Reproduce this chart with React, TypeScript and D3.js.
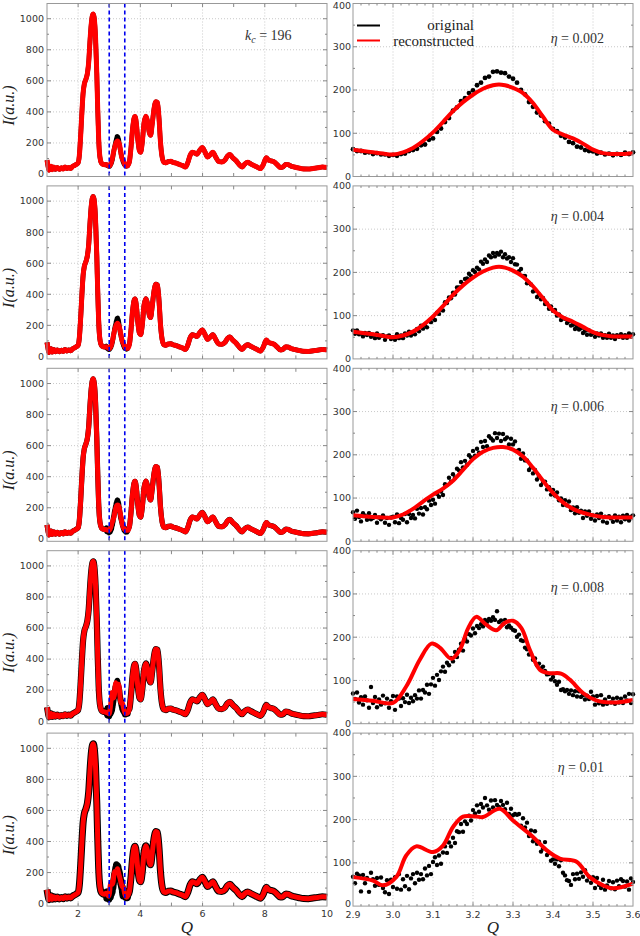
import * as d3 from "d3";

// ---- layout ----
const W = 640;
const H = 936;
const TOP0 = 3.5;
const PH = 173;
const STEP = 182.4;
const LX = [47, 327];
const RX = [353, 633];

// ---- labels / ticks ----
const etaLabels = ["0.002", "0.004", "0.006", "0.008", "0.01"];
const etaDy = [35, 31, 39, 37, 35];
const leftXTicks = [2, 4, 6, 8, 10];
const leftYTicks = [0, 200, 400, 600, 800, 1000];
const rightXTicks = [2.9, 3.0, 3.1, 3.2, 3.3, 3.4, 3.5, 3.6];
const rightYTicks = [0, 100, 200, 300, 400];
const windowLines = [3.0, 3.5];

// full spectrum outside the 2.9–3.6 window, [Q, I]
const specLow = [
  [1.0, 90], [1.03, 55], [1.06, 25], [1.1, 45], [1.13, 50], [1.17, 28], [1.22, 45], [1.27, 30],
  [1.33, 42], [1.4, 30], [1.46, 40], [1.52, 32], [1.58, 45], [1.64, 35], [1.7, 42], [1.76, 36],
  [1.82, 48], [1.88, 55], [1.94, 62], [2.0, 72], [2.04, 120], [2.08, 240], [2.12, 390], [2.16, 520],
  [2.2, 580], [2.25, 610], [2.3, 650], [2.34, 720], [2.38, 850], [2.42, 960], [2.46, 1020], [2.49, 1030],
  [2.52, 1000], [2.56, 880], [2.6, 650], [2.63, 420], [2.66, 230], [2.7, 110], [2.75, 70], [2.8, 62],
  [2.85, 60],
];
const specHigh = [
  [3.65, 80], [3.7, 170], [3.75, 290], [3.8, 360], [3.83, 370], [3.87, 330], [3.92, 220], [3.97, 150],
  [4.01, 140], [4.06, 200], [4.12, 330], [4.18, 372], [4.23, 340], [4.29, 265], [4.33, 250], [4.38, 320],
  [4.44, 420], [4.5, 465], [4.55, 460], [4.6, 360], [4.65, 200], [4.7, 110], [4.76, 75], [4.82, 72],
  [4.9, 80], [4.98, 82], [5.05, 75], [5.15, 70], [5.25, 62], [5.35, 55], [5.45, 45], [5.52, 70],
  [5.6, 120], [5.67, 140], [5.75, 135], [5.82, 128], [5.9, 150], [5.99, 170], [6.07, 145], [6.16, 110],
  [6.25, 125], [6.33, 140], [6.42, 110], [6.52, 80], [6.62, 78], [6.72, 90], [6.8, 115], [6.88, 125],
  [6.97, 105], [7.08, 85], [7.18, 60], [7.27, 45], [7.36, 65], [7.45, 75], [7.55, 65], [7.65, 55],
  [7.75, 45], [7.86, 35], [7.95, 60], [8.05, 105], [8.12, 90], [8.2, 85], [8.3, 78], [8.4, 60],
  [8.5, 42], [8.58, 45], [8.68, 62], [8.76, 60], [8.85, 50], [8.95, 45], [9.1, 38], [9.25, 33],
  [9.4, 32], [9.55, 36], [9.7, 40], [9.85, 45], [10.0, 42],
];

// original (noisy) data in the window, evenly spaced from Q=2.9 to Q=3.6
const orig1 = [
  63, 59, 59, 55, 56, 52, 54, 51, 51, 48, 50, 48, 52, 53, 59, 61, 64, 72, 74, 85,
  88, 103, 111, 126, 135, 152, 160, 174, 181, 193, 199, 211, 217, 228, 231, 242, 243, 240, 239, 231,
  226, 217, 200, 190, 172, 161, 148, 141, 128, 122, 110, 105, 94, 90, 80, 77, 69, 67, 61, 59,
  58, 53, 55, 51, 53, 49, 52, 50, 55, 52, 56,
];
const orig2 = [
  66, 58, 66, 57, 59, 52, 60, 55, 60, 51, 56, 48, 59, 49, 53, 55, 44, 52, 54, 46,
  50, 44, 57, 48, 54, 48, 59, 54, 63, 54, 62, 57, 69, 64, 77, 70, 78, 73, 88, 85,
  94, 90, 107, 104, 114, 112, 131, 129, 142, 140, 153, 149, 165, 165, 178, 173, 185, 186, 197, 192,
  205, 201, 211, 207, 225, 220, 230, 224, 239, 235, 245, 237, 245, 241, 248, 235, 242, 232, 235, 224,
  233, 219, 218, 203, 208, 192, 192, 175, 176, 172, 156, 158, 143, 149, 138, 141, 127, 128, 116, 121,
  111, 113, 100, 103, 90, 94, 93, 83, 87, 77, 79, 69, 75, 68, 71, 60, 65, 56, 66, 56,
  60, 51, 59, 54, 59, 49, 55, 49, 58, 49, 54, 46, 55, 51, 57, 49, 55, 49, 59, 52, 57,
];
const orig3 = [
  67, 52, 71, 56, 46, 65, 59, 50, 65, 51, 54, 61, 43, 55, 51, 60, 43, 54, 38, 55,
  57, 44, 62, 42, 54, 50, 63, 44, 63, 54, 61, 53, 75, 64, 77, 62, 79, 74, 94, 84,
  96, 87, 110, 103, 115, 107, 132, 130, 147, 138, 155, 147, 168, 164, 183, 171, 186, 177, 199, 194,
  209, 198, 214, 205, 230, 218, 232, 220, 243, 238, 233, 250, 239, 249, 232, 248, 236, 240, 224, 237,
  224, 231, 209, 211, 191, 203, 187, 187, 165, 171, 157, 165, 143, 150, 130, 137, 138, 120, 125, 108,
  119, 106, 113, 95, 99, 84, 95, 83, 92, 72, 78, 65, 79, 66, 71, 54, 69, 59, 69, 52,
  60, 48, 62, 54, 64, 46, 57, 43, 58, 53, 45, 60, 48, 57, 44, 59, 51, 61, 48, 57, 60,
];
const orig4 = [
  70, 57, 72, 49, 61, 44, 63, 54, 37, 85, 48, 62, 38, 56, 44, 65, 47, 58, 37, 52,
  64, 32, 63, 58, 41, 59, 50, 67, 48, 60, 52, 66, 58, 77, 58, 78, 72, 90, 69, 91,
  106, 88, 113, 101, 121, 132, 120, 141, 135, 152, 144, 166, 154, 171, 185, 169, 197, 190, 207, 204,
  220, 209, 226, 221, 230, 225, 240, 235, 242, 238, 246, 240, 260, 235, 239, 230, 240, 223, 227, 222,
  217, 215, 201, 206, 193, 191, 176, 172, 160, 162, 148, 151, 135, 139, 128, 132, 122, 114, 115, 102,
  108, 98, 90, 97, 78, 80, 75, 78, 69, 77, 66, 75, 63, 75, 62, 66, 56, 65, 57, 74,
  63, 44, 64, 47, 66, 44, 56, 46, 62, 49, 58, 46, 60, 49, 58, 48, 63, 54, 69, 48, 68,
];
const orig5 = [
  68, 53, 75, 71, 34, 72, 53, 65, 33, 77, 62, 47, 65, 49, 66, 42, 32, 60, 28, 61,
  44, 67, 40, 74, 38, 62, 46, 70, 39, 64, 74, 53, 77, 61, 74, 62, 87, 71, 93, 74,
  102, 113, 95, 117, 98, 124, 138, 123, 147, 138, 158, 146, 173, 171, 190, 172, 196, 190, 209, 198,
  222, 214, 233, 218, 236, 228, 250, 233, 223, 244, 228, 245, 234, 229, 243, 234, 224, 239, 213, 225,
  210, 213, 211, 213, 186, 203, 182, 193, 162, 175, 150, 173, 144, 149, 126, 133, 148, 118, 123, 105,
  108, 98, 108, 92, 106, 77, 71, 60, 58, 49, 74, 62, 75, 63, 78, 68, 83, 59, 68, 54,
  67, 42, 65, 49, 42, 61, 38, 48, 58, 41, 55, 39, 59, 46, 62, 58, 45, 57, 38, 64, 56,
];

// reconstructed curves in the window, [Q, I]
const red1 = [
  [2.9, 62], [2.925, 59], [2.95, 56], [2.975, 53], [3.0, 51], [3.025, 56], [3.05, 66], [3.075, 82],
  [3.1, 102], [3.125, 126], [3.15, 151], [3.175, 172], [3.2, 189], [3.225, 203], [3.25, 211], [3.265, 213],
  [3.28, 211], [3.3, 205], [3.325, 193], [3.35, 170], [3.375, 138], [3.4, 108], [3.425, 97], [3.45, 88],
  [3.475, 76], [3.5, 62], [3.525, 54], [3.55, 52], [3.575, 52], [3.6, 54],
];
const red2 = [
  [2.9, 63], [2.95, 57], [3.0, 50], [3.025, 54], [3.05, 63], [3.075, 78], [3.1, 98], [3.125, 122],
  [3.15, 148], [3.175, 170], [3.2, 188], [3.225, 202], [3.25, 211], [3.265, 213], [3.28, 211], [3.3, 204],
  [3.325, 190], [3.35, 168], [3.375, 140], [3.4, 112], [3.425, 96], [3.45, 86], [3.475, 74], [3.5, 62],
  [3.525, 55], [3.55, 52], [3.6, 52],
];
const red3 = [
  [2.9, 60], [2.925, 58], [2.95, 56], [2.975, 55], [3.0, 55], [3.025, 62], [3.05, 75], [3.075, 92],
  [3.1, 108], [3.125, 122], [3.15, 140], [3.175, 165], [3.2, 190], [3.225, 207], [3.25, 216], [3.275, 218],
  [3.3, 212], [3.325, 196], [3.35, 170], [3.375, 140], [3.4, 112], [3.425, 90], [3.45, 75], [3.475, 66],
  [3.5, 60], [3.525, 56], [3.55, 55], [3.575, 55], [3.6, 55],
];
const red4 = [
  [2.9, 57], [2.95, 53], [3.0, 48], [3.033, 86], [3.067, 148], [3.096, 185], [3.117, 176], [3.146, 150],
  [3.167, 171], [3.188, 221], [3.208, 247], [3.233, 229], [3.258, 216], [3.279, 233], [3.3, 238], [3.321, 221],
  [3.342, 171], [3.367, 125], [3.39, 117], [3.42, 116], [3.442, 102], [3.475, 71], [3.508, 54], [3.55, 49],
  [3.6, 55],
];
const red5 = [
  [2.9, 67], [2.95, 59], [2.975, 48], [3.008, 67], [3.033, 117], [3.058, 138], [3.1, 125], [3.125, 140],
  [3.15, 183], [3.175, 207], [3.208, 207], [3.225, 206], [3.267, 225], [3.3, 198], [3.35, 160], [3.383, 130],
  [3.417, 110], [3.458, 103], [3.492, 67], [3.525, 48], [3.55, 41], [3.6, 52],
];

const origs = [orig1, orig2, orig3, orig4, orig5];
const reds = [red1, red2, red3, red4, red5];
const blackWidth = [4.6, 4.8, 5.2, 6.2, 7];

const tickFont = { fontFamily: "DejaVu Sans", fontSize: 9.5, fill: "#333" };
const mathFont = "Liberation Serif";

function windowPoints(vals: number[]) {
  const q = d3.scaleLinear().domain([0, vals.length - 1]).range([2.9, 3.6]);
  return vals.map((v, i) => [q(i), v]);
}

function LeftPanel({ k }: { k: number }) {
  const top = TOP0 + k * STEP;
  const x = d3.scaleLinear().domain([1, 10]).range(LX);
  const y = d3.scaleLinear().domain([-16, 1098]).range([top + PH, top]);
  const line = d3.line<number[]>().x(d => x(d[0])).y(d => y(d[1])).curve(d3.curveMonotoneX);
  const black = [...specLow, ...windowPoints(origs[k]), ...specHigh];
  const red = [...specLow, ...reds[k], ...specHigh];
  const last = k === 4;
  return (
    <g>
      <rect x={LX[0]} y={top} width={LX[1] - LX[0]} height={PH} fill="#fff" />
      {leftXTicks.filter(t => t < 10).map(t => (
        <line key={"gx" + t} x1={x(t)} x2={x(t)} y1={top} y2={top + PH} stroke="#bbb" strokeWidth={0.8} strokeDasharray="1,2" />
      ))}
      {leftYTicks.filter(t => t > 0).map(t => (
        <line key={"gy" + t} x1={LX[0]} x2={LX[1]} y1={y(t)} y2={y(t)} stroke="#bbb" strokeWidth={0.8} strokeDasharray="1,2" />
      ))}
      <path d={line(black) || ""} fill="none" stroke="#000" strokeWidth={blackWidth[k]} strokeLinejoin="round" />
      <path d={line(red) || ""} fill="none" stroke="#f00" strokeWidth={5} strokeLinejoin="round" />
      {windowLines.map(t => (
        <line key={"w" + t} x1={x(t)} x2={x(t)} y1={top} y2={top + PH} stroke="#0000ee" strokeWidth={1.6} strokeDasharray="4,3" />
      ))}
      <rect x={LX[0]} y={top} width={LX[1] - LX[0]} height={PH} fill="none" stroke="#999" strokeWidth={1} />
      {d3.range(2, 10, 1).map(t => (
        <g key={"tx" + t}>
          <line x1={x(t)} x2={x(t)} y1={top + PH} y2={top + PH - 3.5} stroke="#888" />
          <line x1={x(t)} x2={x(t)} y1={top} y2={top + 3.5} stroke="#888" />
        </g>
      ))}
      {d3.range(100, 1100, 100).map(t => (
        <g key={"ty" + t}>
          <line x1={LX[0]} x2={LX[0] + (t % 200 === 0 ? 4 : 2)} y1={y(t)} y2={y(t)} stroke="#888" />
          <line x1={LX[1]} x2={LX[1] - (t % 200 === 0 ? 4 : 2)} y1={y(t)} y2={y(t)} stroke="#888" />
        </g>
      ))}
      {leftYTicks.map(t => (
        <text key={"ly" + t} x={LX[0] - 3} y={y(t)} dy="0.35em" textAnchor="end" {...tickFont}>{t}</text>
      ))}
      {last && leftXTicks.map(t => (
        <text key={"lx" + t} x={x(t)} y={top + PH + 11} textAnchor="middle" {...tickFont}>{t}</text>
      ))}
      <text transform={`translate(14,${top + 102}) rotate(-90)`} textAnchor="middle" fontFamily={mathFont} fontSize={16} fontStyle="italic" fill="#222">
        I(a.u.)
      </text>
      {k === 0 && (
        <text x={245} y={top + 36} fontFamily={mathFont} fontSize={14} fill="#333">
          <tspan fontStyle="italic">k</tspan>
          <tspan fontStyle="italic" fontSize={10} dy={3}>c</tspan>
          <tspan dy={-3}> = 196</tspan>
        </text>
      )}
      {last && (
        <text x={x(5.5)} y={top + PH + 27} textAnchor="middle" fontFamily={mathFont} fontSize={17} fontStyle="italic" fill="#222">Q</text>
      )}
    </g>
  );
}

function RightPanel({ k }: { k: number }) {
  const top = TOP0 + k * STEP;
  const x = d3.scaleLinear().domain([2.9, 3.6]).range(RX);
  const y = d3.scaleLinear().domain([0, 400]).range([top + PH, top]);
  const line = d3.line<number[]>().x(d => x(d[0])).y(d => y(d[1])).curve(d3.curveCatmullRom.alpha(0.5));
  const pts = windowPoints(origs[k]);
  const last = k === 4;
  const labelDy = (t: number) => (t === 0 && last ? "0.1em" : t === 400 && k === 0 ? "0.6em" : "0.35em");
  return (
    <g>
      <rect x={RX[0]} y={top} width={RX[1] - RX[0]} height={PH} fill="#fff" />
      {rightXTicks.slice(1, -1).map(t => (
        <line key={"gx" + t} x1={x(t)} x2={x(t)} y1={top} y2={top + PH} stroke="#bbb" strokeWidth={0.8} strokeDasharray="1,2" />
      ))}
      {rightYTicks.slice(1, -1).map(t => (
        <line key={"gy" + t} x1={RX[0]} x2={RX[1]} y1={y(t)} y2={y(t)} stroke="#bbb" strokeWidth={0.8} strokeDasharray="1,2" />
      ))}
      {pts.map((d, i) => (
        <circle key={i} cx={x(d[0])} cy={y(d[1])} r={k === 0 ? 2.4 : 2.2} fill="#000" />
      ))}
      <path d={line(reds[k]) || ""} fill="none" stroke="#f00" strokeWidth={4} strokeLinejoin="round" />
      <rect x={RX[0]} y={top} width={RX[1] - RX[0]} height={PH} fill="none" stroke="#999" strokeWidth={1} />
      {d3.range(1, 35).map(j => {
        const t = 2.9 + j * 0.02;
        const major = j % 5 === 0;
        const len = major ? 4 : 2;
        return (
          <g key={"tx" + j}>
            <line x1={x(t)} x2={x(t)} y1={top + PH} y2={top + PH - len} stroke="#888" />
            <line x1={x(t)} x2={x(t)} y1={top} y2={top + len} stroke="#888" />
          </g>
        );
      })}
      {d3.range(50, 400, 50).map(t => (
        <g key={"ty" + t}>
          <line x1={RX[0]} x2={RX[0] + (t % 100 === 0 ? 4 : 2)} y1={y(t)} y2={y(t)} stroke="#888" />
          <line x1={RX[1]} x2={RX[1] - (t % 100 === 0 ? 4 : 2)} y1={y(t)} y2={y(t)} stroke="#888" />
        </g>
      ))}
      {rightYTicks.map(t => (
        <text key={"ry" + t} x={RX[0] - 2} y={y(t)} dy={labelDy(t)} textAnchor="end" {...tickFont}>{t}</text>
      ))}
      {last && rightXTicks.map(t => (
        <text key={"rx" + t} x={x(t)} y={top + PH + 12} textAnchor="middle" {...tickFont}>{t.toFixed(1)}</text>
      ))}
      <text x={604} y={top + etaDy[k] + 4} textAnchor="end" fontFamily={mathFont} fontSize={14} fill="#333">
        <tspan fontStyle="italic">η</tspan> = {etaLabels[k]}
      </text>
      {k === 0 && (
        <g>
          <line x1={357} x2={380} y1={top + 22} y2={top + 22} stroke="#000" strokeWidth={2} />
          <line x1={357} x2={380} y1={top + 37} y2={top + 37} stroke="#f00" strokeWidth={2} />
          <text x={474} y={top + 26} textAnchor="end" fontFamily={mathFont} fontSize={15} fill="#222">original</text>
          <text x={474} y={top + 42} textAnchor="end" fontFamily={mathFont} fontSize={15} fill="#222">reconstructed</text>
        </g>
      )}
      {last && (
        <text x={x(3.25)} y={top + PH + 27} textAnchor="middle" fontFamily={mathFont} fontSize={17} fontStyle="italic" fill="#222">Q</text>
      )}
    </g>
  );
}

export default function App() {
  const idx = [0, 1, 2, 3, 4];
  return (
    <svg width={W} height={H} style={{ position: "absolute", left: 0, top: 0, background: "#fff" }}>
      <rect width={W} height={H} fill="#fff" />
      {idx.map(k => <LeftPanel key={"l" + k} k={k} />)}
      {idx.map(k => <RightPanel key={"r" + k} k={k} />)}
    </svg>
  );
}
